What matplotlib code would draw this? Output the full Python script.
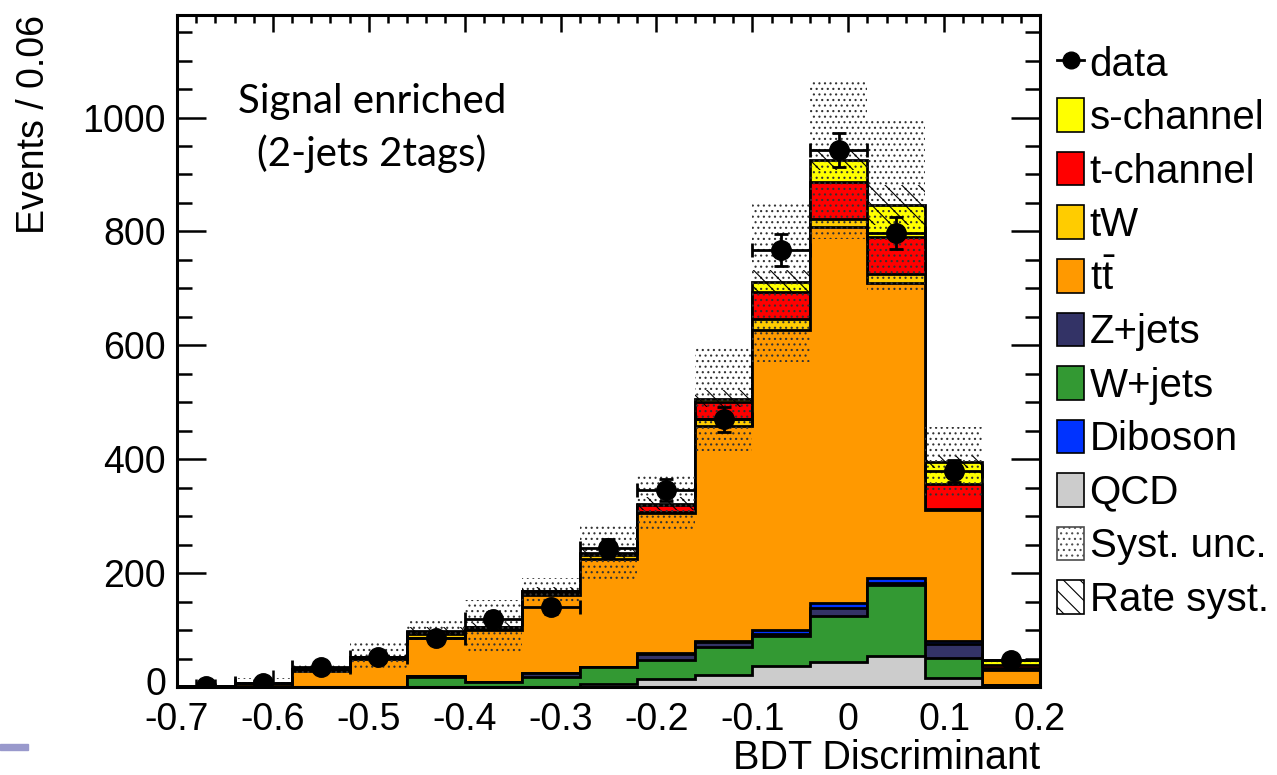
import numpy as np
import matplotlib.pyplot as plt
import matplotlib.transforms as mtransforms
from matplotlib.patches import Patch, Rectangle
from matplotlib.lines import Line2D
from matplotlib.ticker import MultipleLocator

plt.rcParams['font.family'] = ['Liberation Sans', 'DejaVu Sans']
plt.rcParams['mathtext.fontset'] = 'custom'
plt.rcParams['mathtext.rm'] = 'Liberation Sans'
plt.rcParams['mathtext.it'] = 'Liberation Sans'
plt.rcParams['hatch.linewidth'] = 0.8

# BDT bins, width 0.06
edges = np.round(np.linspace(-0.70, 0.20, 16), 2)

# stacked backgrounds / signals (bottom to top)
qcd     = [0, 0, 0, 0, 0, 0, 0, 5, 14, 21, 37, 44, 54, 16, 3]
wjets   = [0, 0, 0, 0, 18, 8, 18, 30, 33, 50, 53, 81, 125, 35, 0]
zjets   = [0, 0, 0, 0, 1, 1, 6, 1, 11, 8, 4, 14, 4, 24, 0]
diboson = [0, 0, 0, 0, 0, 0, 0, 0, 1, 2, 6, 8, 8, 6, 0]
ttbar   = [1, 6, 28, 50, 67, 91, 137, 188, 246, 377, 527, 661, 518, 229, 27]
tw      = [0, 1, 2, 2, 7, 3, 5, 8, 3, 13, 20, 13, 17, 3, 3]
tchan   = [0, 0, 1, 1, 4, 2, 2, 2, 12, 29, 46, 66, 65, 43, 6]
schan   = [0, 0, 1, 0, 2, 1, 1, 1, 2, 6, 18, 39, 55, 39, 8]

data = [2, 7, 35, 52, 86, 120, 140, 244, 346, 470, 767, 943, 797, 379, 48]

# uncertainty half-widths on the total prediction
syst_unc  = [2, 8, 8, 24, 22, 47, 22, 49, 50, 92, 140, 140, 152, 62, 6]
rate_syst = [0.5, 1, 3, 4, 6, 6, 6, 8, 12, 15, 21, 18, 35, 10, 3]

names  = ['QCD', 'W+jets', 'Z+jets', 'Diboson', r'$\mathrm{t\bar{t}}$', 'tW',
          't-channel', 's-channel']
values = [qcd, wjets, zjets, diboson, ttbar, tw, tchan, schan]
colors = ['#cccccc', '#339933', '#333366', '#0033ff', '#ff9900', '#ffcc00',
          '#ff0000', '#ffff00']
legend_order = ['s-channel', 't-channel', 'tW', r'$\mathrm{t\bar{t}}$',
                'Z+jets', 'W+jets', 'Diboson', 'QCD']

fig = plt.figure(figsize=(12.77, 7.75), dpi=100)
ax = fig.add_axes([0.1386, 0.1135, 0.6758, 0.8671])

cum = np.cumsum([np.array(v, dtype=float) for v in values], axis=0)
for i in reversed(range(len(values))):
    ax.stairs(cum[i], edges, baseline=0, fill=True, color=colors[i], zorder=2)
    ax.stairs(cum[i], edges, baseline=0, color='k', lw=2, zorder=2)

total = cum[-1]
centers = 0.5 * (edges[:-1] + edges[1:])
width = np.diff(edges)
syst = np.array(syst_unc, dtype=float)
rate = np.array(rate_syst, dtype=float)

ax.bar(centers, 2 * syst, bottom=total - syst, width=width, fill=False,
       hatch='...', edgecolor='0.2', linewidth=0, zorder=3)
ax.bar(centers, 2 * rate, bottom=total - rate, width=width, fill=False,
       hatch='\\\\', edgecolor='k', linewidth=0, zorder=3)

d = np.array(data, dtype=float)
ax.errorbar(centers, d, yerr=np.sqrt(d), xerr=width / 2, fmt='o', color='k',
            ms=14, elinewidth=2, capsize=5, capthick=2, zorder=4)

ax.set_xlim(-0.7, 0.2)
ax.set_ylim(0, 1180)
ax.xaxis.set_minor_locator(MultipleLocator(0.02))
ax.yaxis.set_minor_locator(MultipleLocator(50))
ax.set_yticks([0, 200, 400, 600, 800, 1000])
ax.set_xticks(np.round(np.arange(-0.7, 0.21, 0.1), 1))
ax.set_xticklabels(['-0.7', '-0.6', '-0.5', '-0.4', '-0.3', '-0.2', '-0.1', '0', '0.1', '0.2'])

ax.tick_params(which='both', direction='in', top=True, right=True, width=1.8,
               labelsize=27)
ax.tick_params(axis='y', which='major', length=21, pad=8)
ax.tick_params(axis='y', which='minor', length=11)
ax.tick_params(axis='x', which='major', length=12, pad=11)
ax.tick_params(axis='x', which='minor', length=6)
for s in ax.spines.values():
    s.set_linewidth(2.2)

# lift the "0" label a little so it clears "-0.7"
zero_lbl = ax.get_yticklabels()[0]
zero_lbl.set_transform(zero_lbl.get_transform() +
                       mtransforms.ScaledTranslation(0, 4 / 72, fig.dpi_scale_trans))

ax.set_ylabel('Events / 0.06', fontsize=27, loc='top')
ax.yaxis.set_label_coords(-0.145, 1.0)
ax.set_xlabel('BDT Discriminant', fontsize=28.5, loc='right')
ax.xaxis.set_label_coords(1.0, -0.077)

ax.text(0.226, 0.832, 'Signal enriched\n(2-jets 2tags)', transform=ax.transAxes,
        ha='center', va='center', fontsize=29, family='Lato', linespacing=1.45)

handles = [Line2D([], [], color='k', marker='o', ms=12, lw=2)]
labels = ['data']
for name in legend_order:
    i = names.index(name)
    handles.append(Patch(facecolor=colors[i], edgecolor='k', lw=1.2))
    labels.append(name)
handles.append(Patch(facecolor='white', edgecolor='0.3', hatch='...', lw=1.2))
labels.append('Syst. unc.')
handles.append(Patch(facecolor='white', edgecolor='k', hatch='\\\\', lw=1.2))
labels.append('Rate syst.')
fig.legend(handles, labels, loc='upper left', bbox_to_anchor=(0.828, 0.942),
           frameon=False, fontsize=29, handlelength=0.66, handleheight=0.9,
           handletextpad=0.14, labelspacing=0.37, borderaxespad=0, borderpad=0)

fig.patches.append(Rectangle((0, 0.032), 0.022, 0.008, transform=fig.transFigure,
                             color='#9999cc', zorder=0))

fig.savefig('out.png', dpi=100)
